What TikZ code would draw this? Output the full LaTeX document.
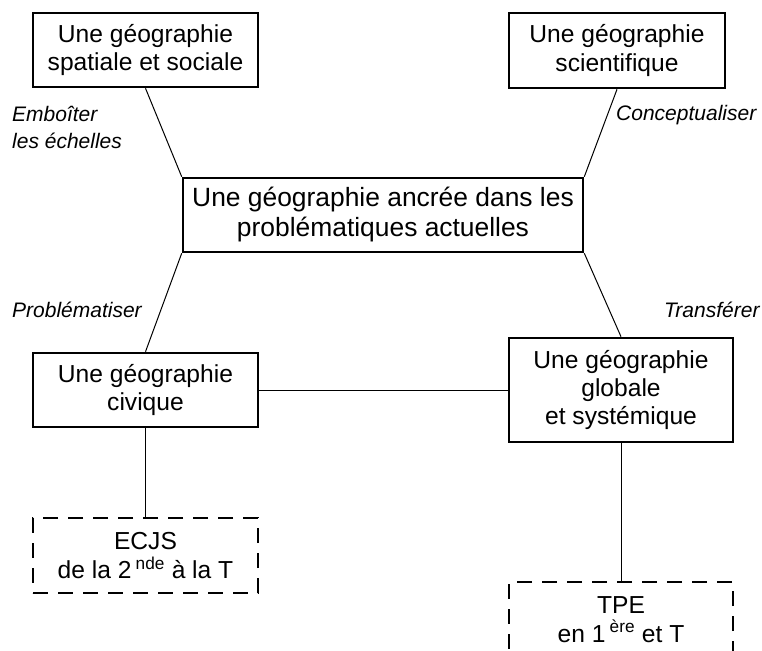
\documentclass[tikz,border=0pt]{standalone}
\usepackage{fontspec}
\setmainfont{Liberation Sans}
\usepackage{tikz}

\newcommand{\boxfont}{\fontsize{24.6}{28.3}\selectfont}
\newcommand{\bigboxfont}{\fontsize{26.4}{30}\selectfont}
\newcommand{\verbfont}{\fontsize{21}{27}\selectfont\itshape}

\begin{document}
\begin{tikzpicture}[x=1pt, y=-1pt,
		box/.style={draw, line width=2.6pt, align=center, inner sep=0pt, font=\boxfont},
		dbox/.style={box, line width=2.6pt, dash pattern=on 15pt off 10pt},
		verb/.style={align=left, anchor=west, inner sep=0pt, font=\verbfont},
		link/.style={line width=1pt}]
				\useasboundingbox (0, 0) rectangle (762, 650);
				\node [box, minimum width=225, minimum height=74] (spatiale) at (145.5, 50) {Une géographie\\spatiale et sociale};
				\node [box, minimum width=216, minimum height=75] (scientifique) at (617, 50.5) {Une géographie\\scientifique};
				\node [box, font=\bigboxfont, minimum width=400, minimum height=74] (ancree) at (383, 215) {Une géographie ancrée dans les\\problématiques actuelles};
				\node [box, minimum width=225, minimum height=74] (civique) at (145.5, 390) {Une géographie\\civique};
				\node [box, minimum width=224, minimum height=104] (globale) at (621, 390) {Une géographie\\globale\\et systémique};
				\node [dbox, minimum width=225, minimum height=75] (ecjs) at (145.5, 555.5) {ECJS\\de la 2\,\textsuperscript{nde} à la T};
				\node [dbox, minimum width=224, minimum height=75] (tpe) at (621, 619.5) {TPE\\en 1\,\textsuperscript{ère} et T};
				\node [verb] (emboiter) at (12, 127) {Emboîter\\les échelles};
				\node [verb] (conceptualiser) at (616, 115) {Conceptualiser};
				\node [verb] (problematiser) at (12, 310) {Problématiser};
				\node [verb] (transferer) at (664, 310) {Transférer};
				\draw [link] (spatiale.south) -- (ancree.north west);
				\draw [link] (scientifique.south) -- (ancree.north east);
				\draw [link] (ancree.south west) -- (civique.north);
				\draw [link] (ancree.south east) -- (globale.north);
				\draw [link] (civique.east) -- (globale.west);
				\draw [link] (civique.south) -- (ecjs.north);
				\draw [link] (globale.south) -- (tpe.north);
\end{tikzpicture}
\end{document}
